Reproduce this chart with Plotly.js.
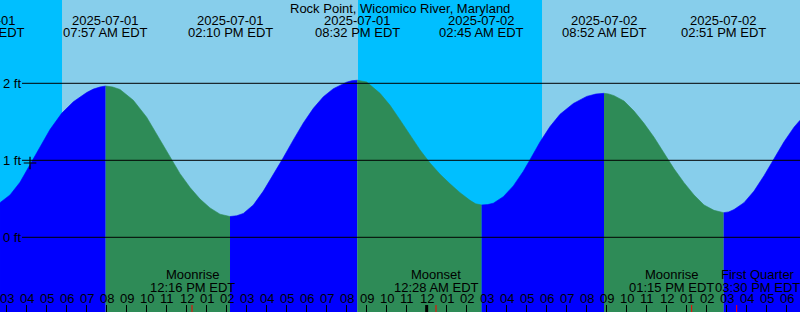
<!DOCTYPE html>
<html>
<head>
<meta charset="utf-8">
<script src="https://cdn.plot.ly/plotly-3.0.1.min.js"></script>
<style>html,body{margin:0;padding:0;background:#00BFFF;}#chart{width:800px;height:312px;}</style>
</head>
<body>
<div id="chart"></div>
<script>
// ---- Data (hours counted from 2025-07-01 00:00 EDT) ----
const chartTitle = 'Rock Point, Wicomico River, Maryland';

const tideTimes = [1.77, 7.95, 14.167, 20.533, 26.75, 32.867, 38.85];
const tideKinds = ['low', 'high', 'low', 'high', 'low', 'high', 'low'];
const tideDates = ['2025-07-01', '2025-07-01', '2025-07-01', '2025-07-01', '2025-07-02', '2025-07-02', '2025-07-02'];
const tideClock = ['01:46 AM EDT', '07:57 AM EDT', '02:10 PM EDT', '08:32 PM EDT', '02:45 AM EDT', '08:52 AM EDT', '02:51 PM EDT'];

const curveHours = [
  2.667, 3.167, 3.667, 4.25, 4.667, 5.167, 5.75, 6.333, 7.0, 7.333, 7.667, 7.95,
  8.3, 8.667, 9.333, 10.0, 10.667, 11.167, 11.667, 12.167, 12.667, 13.167, 13.667, 14.167,
  14.5, 14.833, 15.333, 15.833, 16.333, 16.8, 17.333, 17.833, 18.333, 18.833, 19.333, 20.0, 20.25, 20.533,
  20.8, 21.0, 21.667, 22.167, 22.667, 23.167, 23.667, 24.167, 24.667, 25.167, 25.667, 26.167, 26.45, 26.75,
  27.05, 27.333, 27.833, 28.333, 28.833, 29.167, 29.667, 30.167, 30.667, 31.333, 32.0, 32.45, 32.867,
  33.1, 33.367, 33.867, 34.367, 34.867, 35.367, 35.867, 36.367, 36.867, 37.367, 37.867, 38.367, 38.85,
  39.1, 39.367, 39.867, 40.367, 40.867, 41.367, 41.867, 42.367, 42.667
];
const curveFeet = [
  0.45, 0.55, 0.715, 0.98, 1.18, 1.40, 1.61, 1.76, 1.88, 1.925, 1.952, 1.965,
  1.952, 1.92, 1.78, 1.56, 1.267, 1.037, 0.827, 0.647, 0.497, 0.382, 0.30, 0.27,
  0.28, 0.31, 0.42, 0.60, 0.81, 1.02, 1.265, 1.485, 1.675, 1.825, 1.93, 2.015, 2.033, 2.04,
  2.032, 2.017, 1.87, 1.715, 1.525, 1.325, 1.135, 0.965, 0.82, 0.695, 0.58, 0.48, 0.435, 0.42,
  0.425, 0.443, 0.528, 0.668, 0.858, 1.008, 1.238, 1.438, 1.598, 1.738, 1.83, 1.86, 1.87,
  1.862, 1.84, 1.77, 1.64, 1.48, 1.30, 1.10, 0.89, 0.71, 0.55, 0.42, 0.35, 0.32,
  0.33, 0.36, 0.45, 0.60, 0.80, 1.02, 1.24, 1.43, 1.52
];

const sunriseTimes = [5.767, 29.767];
const sunsetTimes = [20.567, 44.567];

const moonTimes = [12.267, 24.467, 37.25, 39.5];
const moonNames = ['Moonrise', 'Moonset', 'Moonrise', 'First Quarter'];
const moonClock = ['12:16 PM EDT', '12:28 AM EDT', '01:15 PM EDT', '03:30 PM EDT'];

const hourTicks = [3,4,5,6,7,8,9,10,11,12,13,14,15,16,17,18,19,20,21,22,23,24,25,26,27,28,29,30,31,32,33,34,35,36,37,38,39,40,41,42];
const hourLabels = ['03','04','05','06','07','08','09','10','11','12','01','02','03','04','05','06','07','08','09','10','11','12','01','02','03','04','05','06','07','08','09','10','11','12','01','02','03','04','05','06'];
const midnightHours = [24];

const levelFeet = [0, 1, 2];
const levelLabels = ['0 ft', '1 ft', '2 ft'];

const nowHour = 4.167;
const nowFeet = 0.965;

// ---- Styling / layout ----
const W = 800, H = 312;
const XMIN = 2.6667, XMAX = 42.6667;
const YMIN = -0.970, YMAX = 3.082;
const NIGHT = '#00BFFF', DAY = '#87CEEB', RISE = '#0000FF', FALL = '#2E8B57';
const FONT = 'Liberation Sans, Arial, Helvetica, sans-serif';
const moonLabelShift = [0, 0, -20, 21];   // label offsets (px) to avoid collisions
const py = p => 1 - p / H;
const EPS = 1e-3;

const traces = [];
const bounds = [XMIN].concat(tideTimes.filter(t => t > XMIN && t < XMAX), [XMAX]);
for (let i = 0; i < bounds.length - 1; i++) {
  const a = bounds[i], b = bounds[i + 1];
  const xs = [], ys = [];
  curveHours.forEach((h, k) => {
    if (h >= a - EPS && h <= b + EPS) { xs.push(h); ys.push(curveFeet[k]); }
  });
  let prev = null;
  tideTimes.forEach((t, k) => { if (t <= a + EPS) prev = tideKinds[k]; });
  const col = prev === 'high' ? FALL : RISE;
  traces.push({x: [xs[0], xs[xs.length - 1]], y: [YMIN, YMIN], mode: 'lines',
    line: {width: 0, color: col}, hoverinfo: 'skip', showlegend: false});
  traces.push({x: xs, y: ys, mode: 'lines', fill: 'tonexty', fillcolor: col,
    line: {width: 0.6, color: col, shape: 'linear'}, hoverinfo: 'skip', showlegend: false});
}
traces.push({x: [nowHour], y: [nowFeet], mode: 'markers',
  marker: {symbol: 'cross-thin', size: 9, line: {color: 'black', width: 1.2}},
  hoverinfo: 'skip', showlegend: false});

const shapes = [];
sunriseTimes.forEach((sr, i) => {
  shapes.push({type: 'rect', xref: 'x', yref: 'paper', x0: sr, x1: sunsetTimes[i], y0: 0, y1: 1,
    fillcolor: DAY, line: {width: 0}, layer: 'below'});
});
levelFeet.forEach(f => {
  shapes.push({type: 'line', xref: 'paper', yref: 'y', x0: 22 / W, x1: 1, y0: f, y1: f,
    line: {color: 'black', width: 1}, layer: 'above'});
});
midnightHours.forEach(h => {
  shapes.push({type: 'line', xref: 'x', yref: 'paper', x0: h, x1: h, y0: 0, y1: 7 / H,
    line: {color: 'black', width: 3}, layer: 'above'});
});
moonTimes.forEach(h => {
  shapes.push({type: 'line', xref: 'x', yref: 'paper', x0: h, x1: h, y0: 0, y1: 7 / H,
    line: {color: 'red', width: 1}, layer: 'above'});
});

const ann = [];
const txt = (x, yPix, text, extra) => Object.assign({
  x: x, xref: 'x', y: py(yPix), yref: 'paper', text: text, showarrow: false,
  xanchor: 'center', yanchor: 'middle', font: {family: FONT, size: 13, color: 'black'}, borderpad: 0
}, extra || {});
tideTimes.forEach((t, i) => {
  const ex = (t < XMIN || t > XMAX) ? {xref: 'paper', x: (t - XMIN) / (XMAX - XMIN)} : {};
  ann.push(txt(t, 20.5, tideDates[i], ex));
  ann.push(txt(t, 32.5, tideClock[i], ex));
});
moonTimes.forEach((t, i) => {
  ann.push(txt(t, 274.5, moonNames[i], {xshift: moonLabelShift[i]}));
  ann.push(txt(t, 287, moonClock[i], {xshift: moonLabelShift[i]}));
});
hourTicks.forEach((h, i) => ann.push(txt(h, 298.5, hourLabels[i])));
levelFeet.forEach((f, i) => ann.push({x: 2 / W, xref: 'paper', y: f, yref: 'y', text: levelLabels[i],
  showarrow: false, xanchor: 'left', yanchor: 'middle', borderpad: 0,
  font: {family: FONT, size: 13, color: 'black'}}));
ann.push({x: 0.5, xref: 'paper', y: py(8.5), yref: 'paper', text: chartTitle, showarrow: false,
  xanchor: 'center', yanchor: 'middle', borderpad: 0, font: {family: FONT, size: 13, color: 'black'}});

const layout = {
  width: W, height: H,
  margin: {l: 0, r: 0, t: 0, b: 0, pad: 0},
  paper_bgcolor: NIGHT, plot_bgcolor: NIGHT,
  showlegend: false,
  xaxis: {range: [XMIN, XMAX], showgrid: false, zeroline: false, showline: false,
    ticks: 'inside', ticklen: 7, tickwidth: 1, tickcolor: 'black', tick0: 0, dtick: 1,
    showticklabels: false, automargin: false, fixedrange: true},
  yaxis: {range: [YMIN, YMAX], showgrid: false, zeroline: false, showline: false,
    ticks: '', showticklabels: false, automargin: false, fixedrange: true},
  shapes: shapes,
  annotations: ann
};

Plotly.newPlot('chart', traces, layout, {staticPlot: true, displayModeBar: false});
</script>
</body>
</html>
